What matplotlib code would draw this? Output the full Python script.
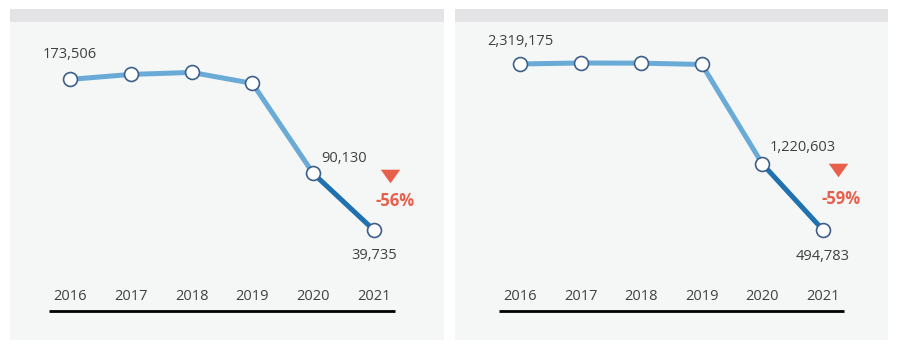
import matplotlib
matplotlib.use("Agg")
import matplotlib.pyplot as plt
from matplotlib.patches import Rectangle
import matplotlib.transforms as mtransforms

plt.rcParams['font.family'] = ['Open Sans', 'DejaVu Sans']

years = ["2016", "2017", "2018", "2019", "2020", "2021"]
left_values = [173506, 177900, 179700, 170000, 90130, 39735]
right_values = [2319175, 2330000, 2328000, 2314000, 1220603, 494783]
left_change = "-56%"
right_change = "-59%"

W, H = 900, 352
fig = plt.figure(figsize=(W / 100, H / 100), dpi=100)
fig.patch.set_facecolor("white")

def px_rect(x0, y0, x1, y1, color):
    fig.add_artist(Rectangle((x0 / W, 1 - y1 / H), (x1 - x0) / W, (y1 - y0) / H,
                             transform=fig.transFigure, facecolor=color,
                             edgecolor="none", zorder=0))

# panels
px_rect(10, 9, 444, 340, "#f5f6f6")
px_rect(10, 9, 444, 22, "#e4e4e6")
px_rect(455, 9, 888, 340, "#f5f6f6")
px_rect(455, 9, 888, 22, "#e4e4e6")

LIGHT = "#6aaad6"
DARK = "#1f72b0"
EDGE = "#3d5f8c"
RED = "#e8604c"
TXT = "#404040"
TRI = [(-1, 0.7), (1, 0.7), (0, -0.7), (-1, 0.7)]

def panel(x_first_px, step_px, zero_px, per_px, values,
          top_label_dy, mid_label, low_label_dy, line_x0, line_x1):
    left = (x_first_px - step_px / 2) / W
    width = 6 * step_px / W
    ax = fig.add_axes([left, 0, width, 1])
    ax.set_xlim(-0.5, 5.5)
    ax.set_ylim(-(H - zero_px) * per_px, zero_px * per_px)
    ax.axis("off")
    ax.patch.set_alpha(0)
    x = list(range(len(years)))
    ax.plot(x[:5], values[:5], color=LIGHT, lw=3.6, solid_capstyle="round", zorder=2)
    ax.plot(x[4:], values[4:], color=DARK, lw=3.6, solid_capstyle="round", zorder=2)
    ax.plot(x, values, "o", ms=10, mfc="white", mec=EDGE, mew=1.2, zorder=3)

    blend = mtransforms.blended_transform_factory(ax.transData, fig.transFigure)
    for i, yr in enumerate(years):
        ax.text(i, 1 - 297 / H, yr, transform=blend, ha="center", va="center",
                fontsize=10.5, color=TXT)
    ax.plot([line_x0, line_x1], [1 - 311 / H] * 2, transform=blend,
            color="black", lw=2.0, solid_capstyle="butt", clip_on=False)

    ax.annotate(f"{values[0]:,}", (0, values[0]), xytext=(0, top_label_dy),
                textcoords="offset points", ha="center", va="center",
                fontsize=10.5, color=TXT)
    ax.annotate(f"{values[4]:,}", (4, values[4]), xytext=mid_label,
                textcoords="offset points", ha="left", va="center",
                fontsize=10.5, color=TXT)
    ax.annotate(f"{values[5]:,}", (5, values[5]), xytext=(0, low_label_dy),
                textcoords="offset points", ha="center", va="center",
                fontsize=10.5, color=TXT)
    return ax, blend

axL, bL = panel(70, 60.8, 275, 887, left_values,
                18, (6, 11), -18, -0.35, 5.35)
axL.plot(5.27, 1 - 176 / H, marker=TRI, ms=14, color=RED, mew=0,
         transform=bL, clip_on=False)
axL.text(5.345, 1 - 201 / H, left_change, transform=bL, ha="center",
         va="center", fontsize=12, color=RED, fontweight="bold")

axR, bR = panel(520, 60.6, 275, 10990, right_values,
                16, (5, 12), -19, -0.35, 5.35)
axR.plot(5.25, 1 - 170 / H, marker=TRI, ms=14, color=RED, mew=0,
         transform=bR, clip_on=False)
axR.text(5.3, 1 - 199 / H, right_change, transform=bR, ha="center",
         va="center", fontsize=12, color=RED, fontweight="bold")

fig.savefig("out.png", dpi=100, facecolor="white")
